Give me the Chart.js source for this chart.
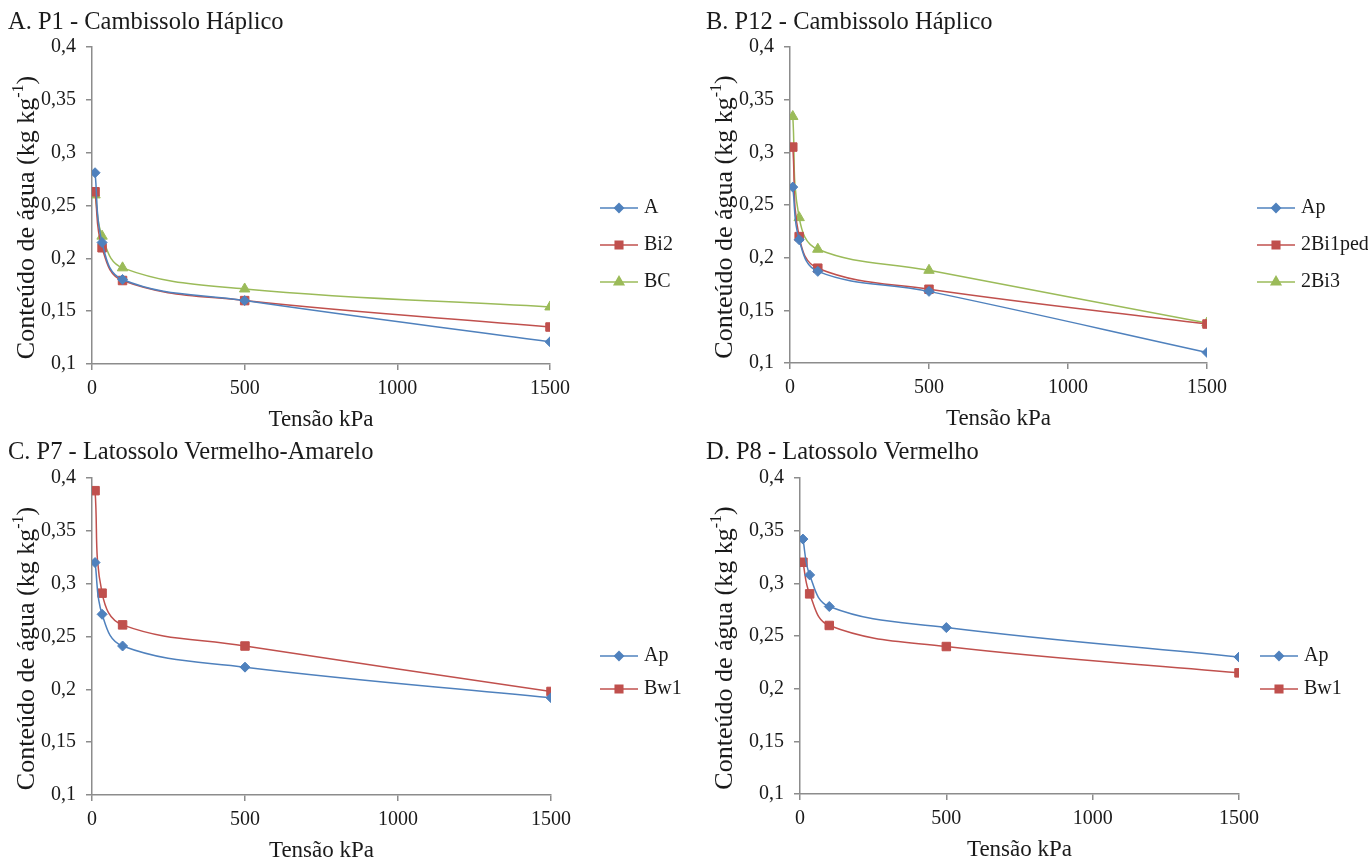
<!DOCTYPE html>
<html>
<head>
<meta charset="utf-8">
<script src="https://cdn.jsdelivr.net/npm/chart.js@4/dist/chart.umd.min.js"></script>
<style>
  body { margin: 0; background: #fff; }
  #wrap { position: relative; width: 1368px; height: 861px; }
  canvas { position: absolute; }
</style>
</head>
<body>
<div id="wrap">
  <canvas id="pA" width="684" height="430" style="left:0;top:0"></canvas>
  <canvas id="pB" width="684" height="430" style="left:684px;top:0"></canvas>
  <canvas id="pC" width="684" height="431" style="left:0;top:430px"></canvas>
  <canvas id="pD" width="684" height="431" style="left:684px;top:430px"></canvas>
</div>
<script>
// tensões (kPa)
const tensoes = [10, 33, 100, 500, 1500];
const yTicks = [0.1, 0.15, 0.2, 0.25, 0.3, 0.35, 0.4];
const xTicks = [0, 500, 1000, 1500];

// A. P1
const p1_A   = [0.281, 0.215, 0.180, 0.160, 0.121];
const p1_Bi2 = [0.263, 0.210, 0.179, 0.160, 0.135];
const p1_BC  = [0.260, 0.221, 0.191, 0.171, 0.154];
// B. P12
const p12_Ap      = [0.267, 0.217, 0.187, 0.168, 0.110];
const p12_2Bi1ped = [0.305, 0.220, 0.190, 0.170, 0.137];
const p12_2Bi3    = [0.334, 0.238, 0.208, 0.188, 0.138];
// C. P7
const p7_Ap  = [0.320, 0.271, 0.241, 0.221, 0.192];
const p7_Bw1 = [0.388, 0.291, 0.261, 0.241, 0.198];
// D. P8
const p8_Ap  = [0.342, 0.308, 0.278, 0.258, 0.230];
const p8_Bw1 = [0.320, 0.290, 0.260, 0.240, 0.215];

const BLUE = '#4F81BD', RED = '#C0504D', GREEN = '#9BBB59';
const FONT = '"Liberation Serif", "Times New Roman", serif';
const AXIS = '#8c8c8c';
const TEXT = '#1a1a1a';

const styles = {
  blue:  { color: BLUE,  point: 'rectRot',  radius: 5 },
  red:   { color: RED,   point: 'rect',     radius: 6 },
  green: { color: GREEN, point: 'triangle', radius: 6 }
};

function serie(label, values, st) {
  const s = styles[st];
  return {
    label: label,
    data: tensoes.map((t, i) => ({ x: t, y: values[i] })),
    borderColor: s.color,
    backgroundColor: s.color,
    borderWidth: 1.5,
    pointStyle: s.point,
    pointRadius: s.radius,
    pointBorderWidth: 1,
    showLine: true,
    tension: 0.4
  };
}

// titles, axis titles and legend
const textPlugin = {
  id: 'texts',
  afterDraw(chart, args, opts) {
    const ctx = chart.ctx;
    const a = chart.chartArea;
    ctx.save();
    ctx.fillStyle = TEXT;

    ctx.font = '24.5px ' + FONT;
    ctx.textAlign = 'left';
    ctx.textBaseline = 'alphabetic';
    ctx.fillText(opts.title, opts.titleX, 29);

    ctx.font = '23px ' + FONT;
    ctx.textAlign = 'center';
    ctx.fillText('Tensão kPa', (a.left + a.right) / 2, a.bottom + 62);

    // y title with superscript
    ctx.save();
    ctx.translate(opts.yTitleX, (a.top + a.bottom) / 2 + 12);
    ctx.rotate(-Math.PI / 2);
    ctx.textAlign = 'left';
    ctx.textBaseline = 'middle';
    const t1 = 'Conteúdo de água (kg kg', t2 = '-1', t3 = ')';
    ctx.font = '26px ' + FONT;
    const w1 = ctx.measureText(t1).width, w3 = ctx.measureText(t3).width;
    ctx.font = '16px ' + FONT;
    const w2 = ctx.measureText(t2).width;
    let x = -(w1 + w2 + w3) / 2;
    ctx.font = '26px ' + FONT;
    ctx.fillText(t1, x, 0);
    x += w1;
    ctx.font = '16px ' + FONT;
    ctx.fillText(t2, x, -8);
    x += w2;
    ctx.font = '26px ' + FONT;
    ctx.fillText(t3, x, 0);
    ctx.restore();

    // legend
    ctx.font = '20px ' + FONT;
    ctx.textAlign = 'left';
    ctx.textBaseline = 'middle';
    chart.data.datasets.forEach((ds, i) => {
      const y = opts.legendY + i * opts.legendGap;
      const x0 = opts.legendX;
      ctx.strokeStyle = ds.borderColor;
      ctx.globalAlpha = 0.75;
      ctx.lineWidth = 2;
      ctx.beginPath();
      ctx.moveTo(x0, y);
      ctx.lineTo(x0 + 38, y);
      ctx.stroke();
      ctx.globalAlpha = 1;
      Chart.helpers.drawPoint(ctx, {
        pointStyle: ds.pointStyle,
        radius: ds.pointRadius - 1,
        borderWidth: 1,
        rotation: 0
      }, x0 + 19, y);
      ctx.fillStyle = ds.borderColor;
      ctx.fill();
      ctx.fillStyle = TEXT;
      ctx.fillText(ds.label, x0 + 44, y);
    });
    ctx.restore();
  }
};

function fmt(v) {
  return String(Number(v.toFixed(2))).replace('.', ',');
}

function panel(id, cfg) {
  const canvas = document.getElementById(id);
  const W = canvas.width, H = canvas.height;
  new Chart(canvas, {
    type: 'scatter',
    data: { datasets: cfg.datasets },
    options: {
      responsive: false,
      animation: false,
      devicePixelRatio: 1,
      layout: {
        padding: { left: 0, top: cfg.top, right: W - cfg.right, bottom: H - cfg.bottom - 40 }
      },
      plugins: {
        legend: { display: false },
        tooltip: { enabled: false },
        texts: cfg.texts
      },
      scales: {
        x: {
          type: 'linear', min: 0, max: 1500,
          afterBuildTicks: s => { s.ticks = xTicks.map(v => ({ value: v })); },
          afterFit: s => { s.height = 40; },
          ticks: { color: TEXT, font: { family: FONT, size: 20 }, padding: 7, maxRotation: 0, callback: v => String(v) },
          grid: { drawOnChartArea: false, drawTicks: true, tickLength: 6, color: AXIS, lineWidth: 1.5 },
          border: { color: AXIS, width: 1.5 }
        },
        y: {
          type: 'linear', min: 0.1, max: 0.4,
          afterBuildTicks: s => { s.ticks = yTicks.map(v => ({ value: v })); },
          afterFit: s => { s.width = cfg.left; },
          ticks: { color: TEXT, font: { family: FONT, size: 20 }, padding: 10, callback: v => fmt(v) },
          grid: { drawOnChartArea: false, drawTicks: true, tickLength: 6, color: AXIS, lineWidth: 1.5 },
          border: { color: AXIS, width: 1.5 }
        }
      }
    },
    plugins: [textPlugin]
  });
}

panel('pA', {
  left: 92, right: 550, top: 47, bottom: 364,
  datasets: [serie('A', p1_A, 'blue'), serie('Bi2', p1_Bi2, 'red'), serie('BC', p1_BC, 'green')],
  texts: { title: 'A. P1 - Cambissolo Háplico', titleX: 8, yTitleX: 27, legendX: 600, legendY: 208, legendGap: 37 }
});
panel('pB', {
  left: 106, right: 523, top: 47, bottom: 363,
  datasets: [serie('Ap', p12_Ap, 'blue'), serie('2Bi1ped', p12_2Bi1ped, 'red'), serie('2Bi3', p12_2Bi3, 'green')],
  texts: { title: 'B. P12 - Cambissolo Háplico', titleX: 22, yTitleX: 41, legendX: 573, legendY: 208, legendGap: 37 }
});
panel('pC', {
  left: 92, right: 551, top: 48, bottom: 365,
  datasets: [serie('Ap', p7_Ap, 'blue'), serie('Bw1', p7_Bw1, 'red')],
  texts: { title: 'C. P7 - Latossolo Vermelho-Amarelo', titleX: 8, yTitleX: 27, legendX: 600, legendY: 226, legendGap: 33 }
});
panel('pD', {
  left: 116, right: 555, top: 48, bottom: 364,
  datasets: [serie('Ap', p8_Ap, 'blue'), serie('Bw1', p8_Bw1, 'red')],
  texts: { title: 'D. P8 - Latossolo Vermelho', titleX: 22, yTitleX: 41, legendX: 576, legendY: 226, legendGap: 33 }
});
</script>
</body>
</html>
